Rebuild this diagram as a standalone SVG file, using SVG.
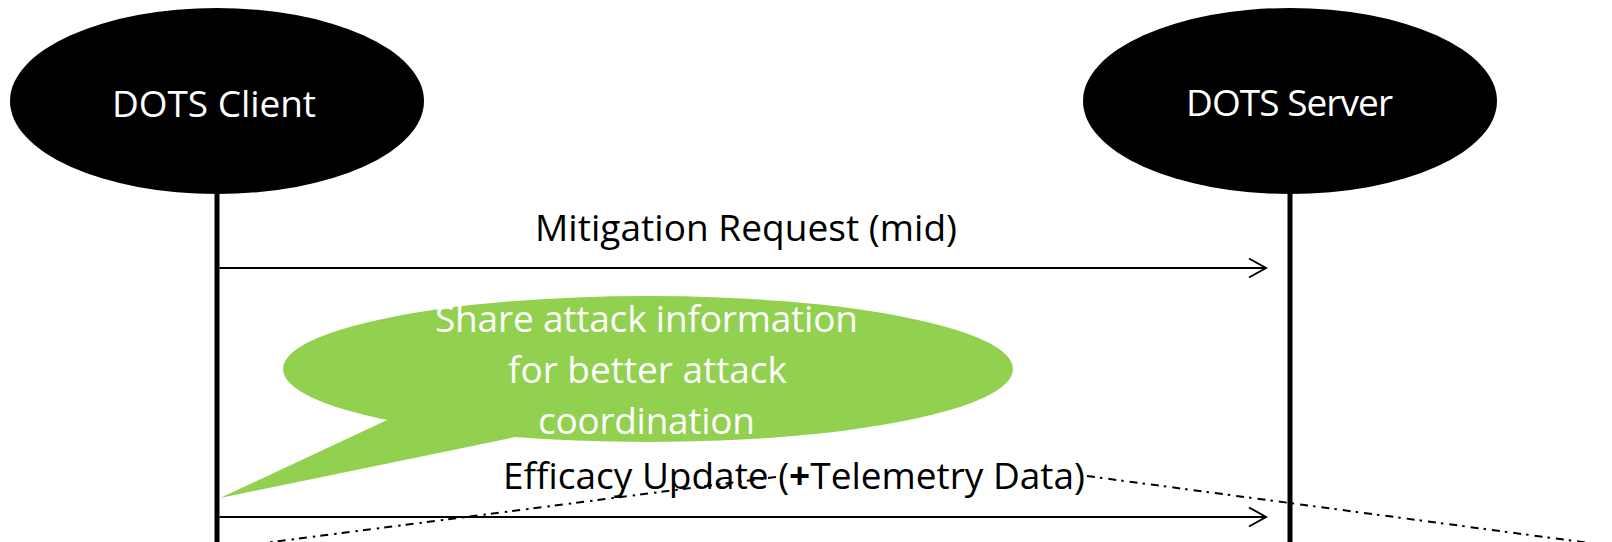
<svg xmlns="http://www.w3.org/2000/svg" width="1612" height="542" viewBox="0 0 1612 542">
  <style>
    .actor { fill: #000000; }
    .actor-label { fill: #ffffff; font-family: "Open Sans", "Noto Sans", "Liberation Sans", sans-serif; font-size: 37px; }
    .lifeline { stroke: #000000; stroke-width: 5; fill: none; }
    .msg { stroke: #000000; stroke-width: 2; fill: none; }
    .msg-label { fill: #000000; font-family: "Open Sans", "Noto Sans", "Liberation Sans", sans-serif; font-size: 37px; }
    .note { fill: #92d050; }
    .note-label { fill: #ffffff; font-family: "Open Sans", "Noto Sans", "Liberation Sans", sans-serif; font-size: 37px; }
    .pointer { stroke: #000000; stroke-width: 2; fill: none; stroke-dasharray: 8 5 2.5 6; }
  </style>
  <defs>
    <marker id="open-arrow" markerUnits="userSpaceOnUse" markerWidth="24" markerHeight="24" viewBox="-20 -12 24 24" refX="0" refY="0" orient="auto">
      <path d="M -17 -9.5 L 0 0 L -17 9.5" fill="none" stroke="#000000" stroke-width="2"/>
    </marker>
  </defs>

  <rect width="1612" height="542" fill="#ffffff"/>

  <!-- lifelines -->
  <g id="lifelines">
    <line class="lifeline" x1="217" y1="185" x2="217" y2="542"/>
    <line class="lifeline" x1="1290" y1="185" x2="1290" y2="542"/>
  </g>

  <!-- participants -->
  <g id="dots-client">
    <ellipse class="actor" cx="217" cy="101" rx="207" ry="93"/>
    <text class="actor-label" x="112" y="117" textLength="204">DOTS Client</text>
  </g>
  <g id="dots-server">
    <ellipse class="actor" cx="1290" cy="101" rx="207" ry="93"/>
    <text class="actor-label" x="1186" y="116" textLength="207">DOTS Server</text>
  </g>

  <!-- speech bubble note -->
  <g id="note-share-attack">
    <ellipse class="note" cx="648" cy="369" rx="365" ry="73"/>
    <polygon class="note" points="220,498 400,414 540,432"/>
    <text class="note-label" x="435" y="332" textLength="423">Share attack information</text>
    <text class="note-label" x="508" y="383" textLength="279">for better attack</text>
    <text class="note-label" x="538" y="434" textLength="217">coordination</text>
  </g>

  <!-- messages -->
  <g id="connectors">
    <line class="msg" x1="219.5" y1="268" x2="1266" y2="268" marker-end="url(#open-arrow)"/>
    <line class="msg" x1="219.5" y1="517" x2="1266" y2="517" marker-end="url(#open-arrow)"/>
    <line class="pointer" x1="776" y1="477" x2="264" y2="543"/>
    <line class="pointer" x1="1087" y1="476" x2="1612" y2="546"/>
  </g>

  <g id="label-mitigation-request">
    <text class="msg-label" x="535" y="241" textLength="422">Mitigation Request (mid)</text>
  </g>
  <g id="label-efficacy-update">
    <text class="msg-label" x="503" y="489" textLength="582">Efficacy Update (<tspan font-weight="bold">+</tspan>Telemetry Data)</text>
  </g>
</svg>
